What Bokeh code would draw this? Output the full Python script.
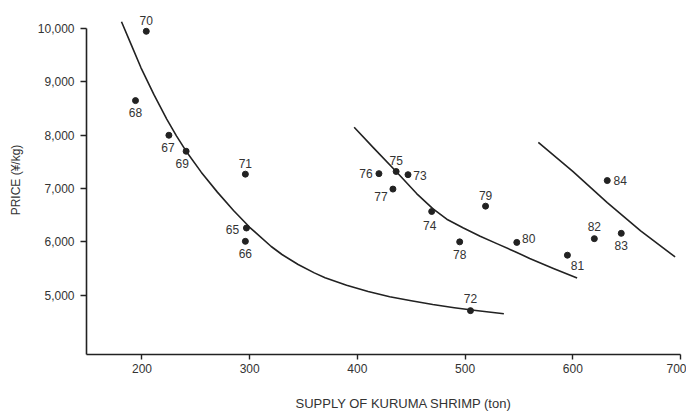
from bokeh.plotting import figure
from bokeh.models import Range1d, Title, FixedTicker, NumeralTickFormatter, ColumnDataSource
from bokeh.embed import file_html
from bokeh.resources import INLINE
from bokeh.core.properties import value

# ---- data ----
years  = ["65", "66", "67", "68", "69", "70", "71", "72", "73", "74",
          "75", "76", "77", "78", "79", "80", "81", "82", "83", "84"]
supply = [297, 296, 225, 194, 241, 204, 296, 505, 447, 469,
          436, 420, 433, 495, 519, 548, 595, 620, 645, 632]
price  = [6260, 6010, 8000, 8650, 7700, 9950, 7270, 4710, 7260, 6570,
          7320, 7280, 6990, 6000, 6670, 5990, 5750, 6060, 6160, 7150]

# label placement (pixels, relative to each dot)
label_dx = [-14, 0, -1, 0, -4, 0, 0, 0, 12, -2,
            0, -13, -12, 0, 0, 12, 10, 0, 0, 13]
label_dy = [1, 12, 12, 12, 12, -11, -11, -12, 1, 14,
            -11, 0, 7, 13, -11, -4, 10, -12, 12, 0]

# demand curves
curve1_supply = [181, 190, 199, 211, 223, 232, 241, 255, 270, 285, 300, 320,
                 330, 345, 360, 370, 390, 410, 430, 450, 470, 490, 510, 536]
curve1_price  = [10130, 9700, 9270, 8766, 8304, 7989, 7701, 7308, 6933, 6588,
                 6273, 5913, 5763, 5576, 5418, 5328, 5188, 5068, 4972, 4894,
                 4824, 4764, 4712, 4650]

curve2_supply = [397, 415, 436, 455, 470, 483, 498, 514, 530, 546, 560, 582, 604]
curve2_price  = [8151, 7764, 7321, 6906, 6623, 6425, 6264, 6104, 5962, 5821,
                 5689, 5500, 5321]

curve3_supply = [568, 600, 632, 663, 695]
curve3_price  = [7868, 7321, 6736, 6208, 5717]

x_ticks = [200, 300, 400, 500, 600, 700]
y_ticks = [5000, 6000, 7000, 8000, 9000, 10000]

FONT = "Liberation Sans"
INK = "#222222"
TXT = "#333333"

X0, X1 = 148.5, 700
Y0, Y1 = 3887, 10434

p = figure(width=686, height=415, output_backend="svg", toolbar_location=None,
           x_range=Range1d(X0, X1), y_range=Range1d(Y0, Y1),
           min_border_left=86, min_border_right=6, min_border_top=5,
           min_border_bottom=10)
p.outline_line_color = None
p.grid.visible = False
p.background_fill_color = "white"
p.border_fill_color = "white"

for xs, ys in [(curve1_supply, curve1_price), (curve2_supply, curve2_price),
               (curve3_supply, curve3_price)]:
    p.line(xs, ys, line_color=INK, line_width=1.6, line_join="round")

src = ColumnDataSource(dict(x=supply, y=price, t=years, dx=label_dx, dy=label_dy))
p.scatter("x", "y", source=src, size=6, fill_color=INK, line_color=INK)
p.text("x", "y", text="t", x_offset="dx", y_offset="dy", source=src,
       text_font=value(FONT), text_font_size="12px", text_color=TXT,
       text_align="center", text_baseline="middle")

xa = p.xaxis[0]
xa.ticker = FixedTicker(ticks=x_ticks)
xa.bounds = (X0, X1)
ya = p.yaxis[0]
ya.ticker = FixedTicker(ticks=y_ticks)
ya.formatter = NumeralTickFormatter(format="0,0")
ya.bounds = (Y0, 10000)

for ax in (xa, ya):
    ax.axis_line_color = INK
    ax.axis_line_width = 1.6
    ax.major_tick_line_color = INK
    ax.major_tick_line_width = 1.4
    ax.major_tick_in = 0
    ax.minor_tick_line_color = None
    ax.major_label_text_font = FONT
    ax.major_label_text_font_size = "12px"
    ax.major_label_text_color = TXT

xa.major_tick_out = 5
xa.major_label_standoff = 4
ya.major_tick_out = 6
ya.major_label_standoff = 6

# blank axis label used only as spacing below the tick labels
xa.axis_label = " "
xa.axis_label_standoff = 1
xa.axis_label_text_font_size = "8px"

ya.axis_label = "PRICE (¥/kg)"
ya.axis_label_text_font = FONT
ya.axis_label_text_font_size = "12px"
ya.axis_label_text_font_style = "normal"
ya.axis_label_text_color = TXT
ya.axis_label_standoff = 12

t = Title(text="SUPPLY OF KURUMA SHRIMP (ton)", align="left", offset=209,
          text_font=FONT, text_font_size="13px", text_font_style="normal",
          text_color=TXT, standoff=10)
p.add_layout(t, "below")

open("out.html", "w").write(file_html(p, INLINE))
